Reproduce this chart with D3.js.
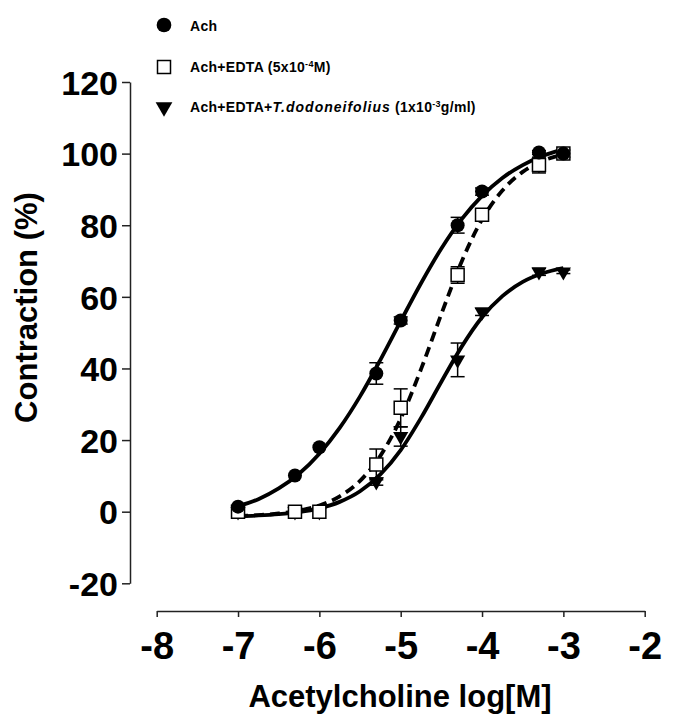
<!DOCTYPE html>
<html><head><meta charset="utf-8">
<script src="https://cdn.jsdelivr.net/npm/d3@7"></script>
<style>
body{margin:0;background:#fff}
svg{display:block}
text{font-family:"Liberation Sans",Arial,sans-serif;font-weight:bold;fill:#000}
</style>
</head><body>
<svg id="chart" width="678" height="715"></svg>
<script>
// ---- data ----
const logDose = [-7, -6.3, -6, -5.3, -5, -4.3, -4, -3.3, -3];
const achValues  = [1.4, 10.1, 18, 38.6, 53.4, 80, 89.4, 100.3, 100];
const achErrors  = [0, 0, 0, 3, 1, 2.2, 1, 0.5, 0];
const edtaValues = [0, 0, 0, 13.2, 29, 66.1, 82.9, 96.8, 100];
const edtaErrors = [0, 0, 0, 4.3, 5.3, 2.3, 1.5, 2.2, 1];
const tdValues   = [0, 0, 0, 8.4, 21, 42.4, 55.8, 67, 67];
const tdErrors   = [0, 0, 0, 1, 2.7, 4.7, 1, 1, 0.5];

// fitted curves
const curveDose = [-7, -6.75, -6.5, -6.25, -6, -5.75, -5.5, -5.25, -5, -4.75, -4.5, -4.25, -4, -3.75, -3.5, -3.25, -3];
const achCurve  = [1.5, 3.5, 6.5, 10.6, 16.2, 23.4, 32.2, 42.4, 53.2, 63.8, 73.5, 81.7, 88.2, 93.2, 96.8, 99.4, 101.2];
const edtaCurve = [-1.2, -0.96, -0.51, 0.29, 1.73, 4.28, 8.6, 15.6, 26.0, 39.8, 55.2, 69.9, 81.6, 89.7, 94.9, 98.0, 99.8];
const tdCurve   = [-1.25, -1.05, -0.7, -0.1, 0.95, 2.74, 5.7, 10.4, 17.2, 26.2, 36.3, 46.1, 54.3, 60.2, 64.2, 66.6, 68.0];

const xTicks = [-8, -7, -6, -5, -4, -3, -2];
const yTicks = [-20, 0, 20, 40, 60, 80, 100, 120];

// ---- drawing ----
const svg = d3.select("#chart");
const x = d3.scaleLinear().domain([-8, -2]).range([156.7, 644.7]);
const y = d3.scaleLinear().domain([-20, 120]).range([583.3, 82]);
const fmt = d => String(d); // plain hyphen minus, as in the reference

// axes
const yAxis = svg.append("g").attr("transform", "translate(130,0)")
  .call(d3.axisLeft(y).tickValues(yTicks).tickSize(8).tickSizeOuter(0).tickPadding(4).tickFormat(fmt));
yAxis.selectAll("text").style("font-size", "34px").attr("dy", "0.36em");
yAxis.selectAll("path,line").attr("stroke", "#222").attr("stroke-width", 1.5);

const xAxis = svg.append("g").attr("transform", "translate(0,611)")
  .call(d3.axisBottom(x).tickValues(xTicks).tickSize(6).tickSizeOuter(0).tickPadding(15).tickFormat(fmt));
xAxis.selectAll("text").style("font-size", "38px");
xAxis.selectAll("path,line").attr("stroke", "#222").attr("stroke-width", 1.5);
svg.selectAll(".domain").attr("fill", "none");

// axis titles
svg.append("text").attr("x", 400).attr("y", 707).attr("text-anchor", "middle")
  .style("font-size", "31px").text("Acetylcholine log[M]");
svg.append("text").attr("transform", "translate(37,307.5) rotate(-90)").attr("text-anchor", "middle")
  .style("font-size", "31px").text("Contraction (%)");

// curves
const line = d3.line().x(d => x(d[0])).y(d => y(d[1])).curve(d3.curveMonotoneX);
const curves = [
  {vals: tdCurve, dash: null},
  {vals: edtaCurve, dash: "10,6"},
  {vals: achCurve, dash: null}
];
curves.forEach(c => {
  svg.append("path").datum(curveDose.map((d, i) => [d, c.vals[i]]))
    .attr("d", line).attr("fill", "none").attr("stroke", "#000")
    .attr("stroke-width", 3.8).attr("stroke-dasharray", c.dash);
});

// series
const series = [
  {vals: tdValues, errs: tdErrors, sym: "tri"},
  {vals: edtaValues, errs: edtaErrors, sym: "sq"},
  {vals: achValues, errs: achErrors, sym: "circ"}
];
const symPath = {
  circ: d3.symbol().type(d3.symbolCircle).size(Math.PI * 7 * 7)(),
  sq: d3.symbol().type(d3.symbolSquare).size(13 * 13)(),
  tri: d3.symbol().type(d3.symbolTriangle).size(100)()
};
function drawSymbol(g, sym, cx, cy, scale) {
  const sc = scale || 1;
  const p = g.append("path").attr("d", symPath[sym]);
  if (sym === "tri") p.attr("transform", `translate(${cx},${cy}) rotate(180) scale(${sc})`).attr("fill", "#000");
  else p.attr("transform", `translate(${cx},${cy}) scale(${sc})`);
  if (sym === "circ") p.attr("fill", "#000");
  if (sym === "sq") p.attr("fill", "#fff").attr("stroke", "#000").attr("stroke-width", 1.5 / sc);
}
// error bars first
series.forEach(s => {
  logDose.forEach((d, i) => {
    if (!s.errs[i]) return;
    const cx = x(d), y1 = y(s.vals[i] + s.errs[i]), y2 = y(s.vals[i] - s.errs[i]);
    const g = svg.append("g").attr("stroke", "#000").attr("stroke-width", 1.5);
    g.append("line").attr("x1", cx).attr("x2", cx).attr("y1", y1).attr("y2", y2);
    g.append("line").attr("x1", cx - 7).attr("x2", cx + 7).attr("y1", y1).attr("y2", y1);
    g.append("line").attr("x1", cx - 7).attr("x2", cx + 7).attr("y1", y2).attr("y2", y2);
  });
});
series.forEach(s => {
  const g = svg.append("g");
  logDose.forEach((d, i) => drawSymbol(g, s.sym, x(d), y(s.vals[i])));
});

// legend
const leg = svg.append("g");
drawSymbol(leg, "circ", 164, 25, 1.05);
drawSymbol(leg, "sq", 164, 67, 1.0);
drawSymbol(leg, "tri", 164, 107, 1.1);
const lf = "14px";
leg.append("text").attr("x", 190).attr("y", 30.5).style("font-size", lf).style("letter-spacing", "0.3px").text("Ach");
const t2 = leg.append("text").attr("x", 190).attr("y", 71.5).style("font-size", lf).style("letter-spacing", "0.3px");
t2.append("tspan").text("Ach+EDTA (5x10");
t2.append("tspan").attr("dy", -5).style("font-size", "9px").text("-4");
t2.append("tspan").attr("dy", 5).text("M)");
const t3 = leg.append("text").attr("x", 190).attr("y", 111.5).style("font-size", lf).style("letter-spacing", "0.3px");
t3.append("tspan").text("Ach+EDTA+");
t3.append("tspan").style("font-style", "italic").style("letter-spacing", "1px").text("T.dodoneifolius");
t3.append("tspan").text(" (1x10");
t3.append("tspan").attr("dy", -5).style("font-size", "9px").text("-3");
t3.append("tspan").attr("dy", 5).text("g/ml)");
</script>
</body></html>
